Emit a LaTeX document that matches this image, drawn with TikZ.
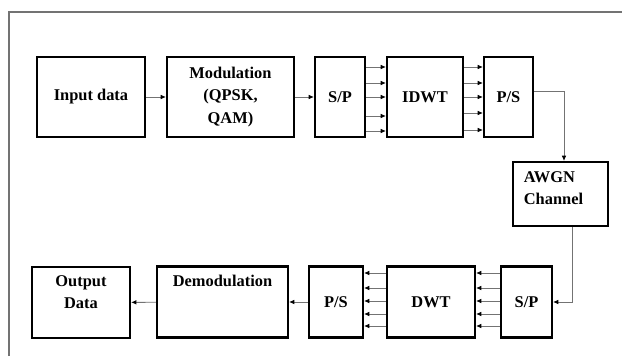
\documentclass[tikz,border=0pt]{standalone}
\usepackage{fontspec}
\setmainfont{Liberation Serif}
\usetikzlibrary{arrows.meta,calc}
\begin{document}
\begin{tikzpicture}[x=0.03cm, y=-0.03cm, font=\bfseries\fontsize{14}{19}\selectfont,
          blockbox/.style={draw, line width=1.8pt, inner sep=0pt, minimum height=2.4cm, align=center},
          lowbox/.style={blockbox, minimum height=2.13cm},
          toplabel/.style={anchor=north, inner sep=0pt, align=center, yshift=-8pt},
          wire/.style={draw=black!55, line width=0.8pt, -{Latex[length=4.5pt,width=4pt,color=black]}}]
        \useasboundingbox (0,0) rectangle (622,356);
        \draw[black!55, line width=1.5pt] (9,356) -- (9,12) -- (622,12);
        \node[blockbox, minimum width=3.24cm] (inp) at (91,97) {Input data};
        \node[blockbox, minimum width=3.81cm] (mod) at (230.5,97) {Modulation\\(QPSK,\\QAM)};
        \node[blockbox, minimum width=1.5cm] (sp1) at (340,97) {S/P};
        \node[blockbox, minimum width=2.28cm] (idwt) at (425,97) {IDWT};
        \node[blockbox, minimum width=1.47cm] (ps1) at (508.5,97) {P/S};
        \node[blockbox, minimum width=2.85cm, minimum height=1.92cm,
          label={[anchor=north west, inner sep=0pt, align=left, xshift=10pt, yshift=-9pt]north west:AWGN\\Channel}] (awgn) at (560.5,194) {};
        \node[lowbox, minimum width=2.94cm, label={[toplabel]north:Output\\Data}] (out) at (81,302.5) {};
        \node[lowbox, minimum width=3.93cm, label={[toplabel]north:Demodulation}] (demod) at (222.5,302) {};
        \node[lowbox, minimum width=1.62cm] (ps2) at (336,302) {P/S};
        \node[lowbox, minimum width=2.64cm] (dwt) at (431,302) {DWT};
        \node[lowbox, minimum width=1.53cm] (sp2) at (526.5,302) {S/P};
        \draw[wire] (inp) -- (mod);
        \draw[wire] (mod) -- (sp1);
        \foreach \ry in {67,83,97,116,131} {
          \draw[wire] (sp1.east |- 0,\ry) -- (idwt.west |- 0,\ry);
        }
        \foreach \ry in {67,83,97,113,130} {
          \draw[wire] (idwt.east |- 0,\ry) -- (ps1.west |- 0,\ry);
        }
        \draw[wire] ($(ps1.east)+(0,-6)$) -| ($(awgn.north)+(3.5,0)$);
        \draw[wire] ($(awgn.south)+(11.5,0)$) |- (sp2.east);
        \foreach \ry in {273,288,301,314,326} {
          \draw[wire] (sp2.west |- 0,\ry) -- (dwt.east |- 0,\ry);
          \draw[wire] (dwt.west |- 0,\ry) -- (ps2.east |- 0,\ry);
        }
        \draw[wire] (ps2) -- (demod);
        \draw[wire] (demod) -- (out);
      \end{tikzpicture}
\end{document}
